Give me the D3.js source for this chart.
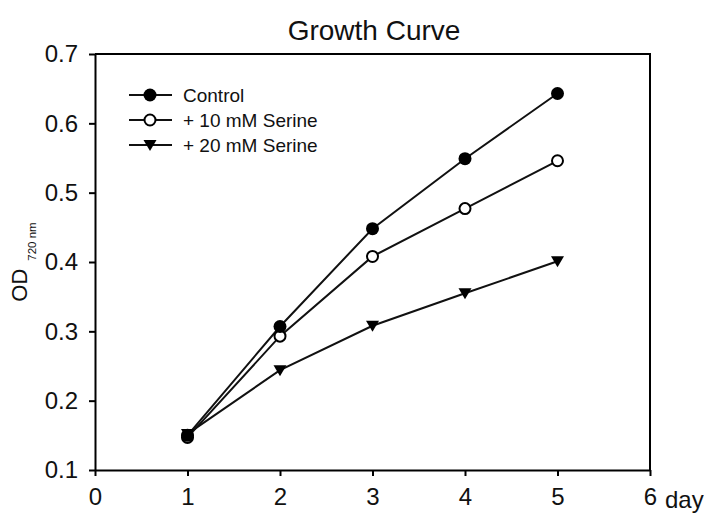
<!DOCTYPE html>
<html>
<head>
<meta charset="utf-8">
<script src="https://cdn.jsdelivr.net/npm/d3@7"></script>
<style>
  body { margin: 0; background: #fff; }
  svg { display: block; font-family: "Liberation Sans", Arial, sans-serif; }
  .axis path, .axis line { stroke: #000; stroke-width: 2; }
  .axis text { font-size: 24px; fill: #111; }
</style>
</head>
<body>
<svg></svg>
<script>
// values
var days = [1, 2, 3, 4, 5];
var control = [0.150, 0.307, 0.448, 0.549, 0.643];
var serine10 = [0.147, 0.293, 0.408, 0.477, 0.546];
var serine20 = [0.152, 0.244, 0.308, 0.355, 0.401];
var seriesNames = ["Control", "+ 10 mM Serine", "+ 20 mM Serine"];
var xTicks = [0, 1, 2, 3, 4, 5, 6];
var yTicks = [0.1, 0.2, 0.3, 0.4, 0.5, 0.6, 0.7];

document.addEventListener("DOMContentLoaded", function() {
  drawChart();
});

function drawChart() {
  var svgWidth = 704, svgHeight = 513;
  var margin = { top: 54, right: 54, bottom: 43, left: 95 };
  var width = svgWidth - margin.left - margin.right;
  var height = svgHeight - margin.top - margin.bottom;

  var svg = d3.select("svg")
    .attr("width", svgWidth)
    .attr("height", svgHeight);

  var chart = svg.append("g")
    .attr("transform", `translate(${margin.left}, ${margin.top})`);

  var x = d3.scaleLinear().domain([0, 6]).range([0, width]);
  var y = d3.scaleLinear().domain([0.1, 0.7]).range([height, 0]);

  // frame (top + right)
  chart.append("path")
    .attr("d", `M0,0H${width}V${height}`)
    .attr("fill", "none")
    .attr("stroke", "#000")
    .attr("stroke-width", 2);

  // axes
  var xAxis = chart.append("g")
    .attr("class", "axis")
    .attr("transform", "translate(0," + height + ")")
    .call(d3.axisBottom(x).tickValues(xTicks).tickSize(6).tickSizeOuter(0).tickPadding(12)
      .tickFormat(d3.format("d")));

  chart.append("g")
    .attr("class", "axis")
    .call(d3.axisLeft(y).tickValues(yTicks).tickSize(6).tickSizeOuter(0).tickPadding(11)
      .tickFormat(d3.format(".1f")));

  svg.append("text")
    .attr("x", margin.left + x(6) + 15)
    .attr("y", margin.top + height + 38)
    .attr("font-size", 24)
    .attr("fill", "#111")
    .text("day");

  var line = d3.line()
    .x(function(d) { return x(d.day); })
    .y(function(d) { return y(d.v); });

  function toPoints(vals) {
    return days.map(function(d, i) { return { day: d, v: vals[i] }; });
  }

  var series = [
    { name: seriesNames[2], pts: toPoints(serine20), marker: "tri" },
    { name: seriesNames[1], pts: toPoints(serine10), marker: "open" },
    { name: seriesNames[0], pts: toPoints(control), marker: "filled" }
  ];

  series.forEach(function(s) {
    chart.append("path")
      .datum(s.pts)
      .attr("fill", "none")
      .attr("stroke", "#111")
      .attr("stroke-width", 2)
      .attr("d", line);
  });

  function drawMarker(g, type, cx, cy) {
    if (type === "filled") {
      g.append("circle").attr("cx", cx).attr("cy", cy).attr("r", 6.5).attr("fill", "#000");
    } else if (type === "open") {
      g.append("circle").attr("cx", cx).attr("cy", cy).attr("r", 5.5)
        .attr("fill", "#fff").attr("stroke", "#000").attr("stroke-width", 2);
    } else {
      g.append("path")
        .attr("transform", `translate(${cx},${cy})`)
        .attr("d", "M-6.5,-5L6.5,-5L0,6Z")
        .attr("fill", "#000");
    }
  }

  series.forEach(function(s) {
    s.pts.forEach(function(p) {
      drawMarker(chart, s.marker, x(p.day), y(p.v));
    });
  });

  // legend
  var legend = svg.append("g").attr("transform", "translate(129, 95)");
  ["filled", "open", "tri"].forEach(function(m, i) {
    var row = legend.append("g").attr("transform", `translate(0, ${i * 25})`);
    row.append("line")
      .attr("x1", 0).attr("x2", 43)
      .attr("stroke", "#111").attr("stroke-width", 2);
    drawMarker(row, m, 21, 0);
    row.append("text")
      .attr("x", 54)
      .attr("y", 7)
      .attr("font-size", 19)
      .attr("fill", "#111")
      .text(seriesNames[i]);
  });

  // title
  svg.append("text")
    .attr("x", 374)
    .attr("y", 40)
    .attr("text-anchor", "middle")
    .attr("font-size", 28)
    .attr("fill", "#111")
    .text("Growth Curve");

  // y label with subscript
  var ylab = svg.append("text")
    .attr("transform", `translate(27, ${margin.top + height / 2}) rotate(-90)`)
    .attr("text-anchor", "middle")
    .attr("fill", "#111")
    .attr("font-size", 22);
  ylab.append("tspan").text("OD");
  ylab.append("tspan").attr("dx", 8).attr("dy", 9).attr("font-size", 11.5).text("720 nm");
}
</script>
</body>
</html>
